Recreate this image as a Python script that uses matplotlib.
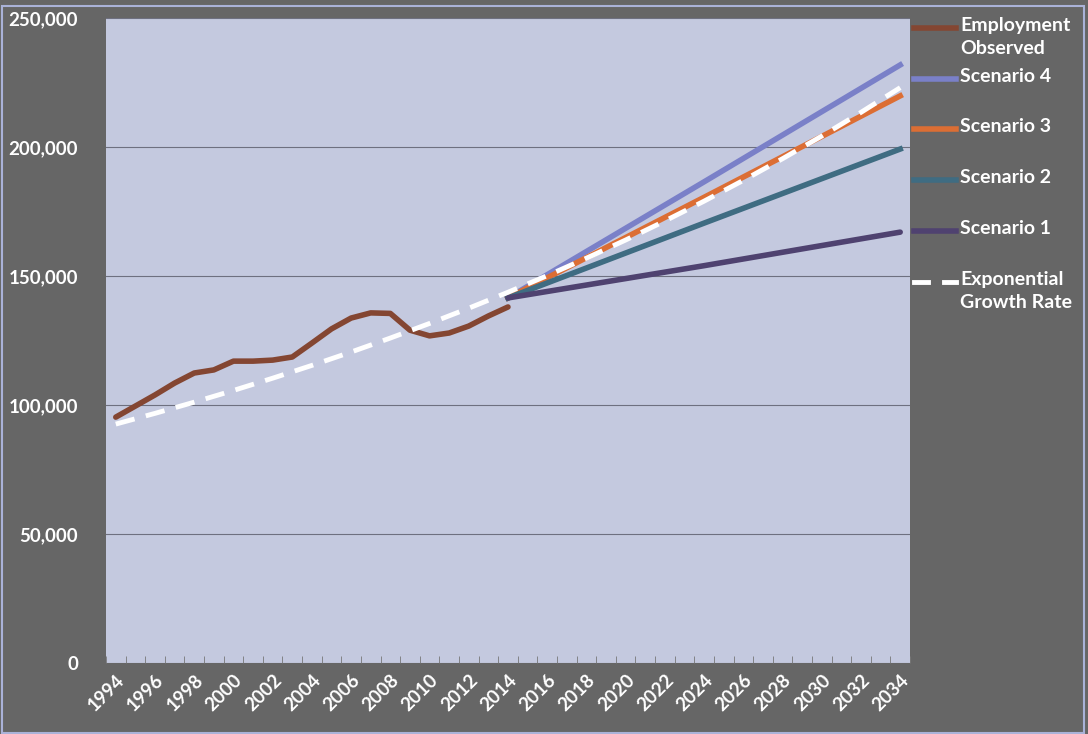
import matplotlib
matplotlib.use("Agg")
import matplotlib.pyplot as plt
from matplotlib.lines import Line2D
from matplotlib.patches import Rectangle
import numpy as np

# observed employment, 1994-2014
obs_years = list(range(1994, 2015))
employment = [95300, 99600, 103900, 108500, 112400, 113600, 117000, 117000,
              117400, 118600, 124000, 129500, 133700, 135700, 135500, 129000,
              126800, 127900, 130600, 134500, 138000]

# scenarios 2014 -> 2034 (straight lines)
sc_years = [2014, 2024, 2034]
scenario4 = [141500, 186500, 231800]
scenario3 = [141500, 180500, 219800]
scenario2 = [141500, 170500, 199200]
scenario1 = [141500, 154000, 167000]

# exponential growth trend, every 2 years
exp_years = list(range(1994, 2035, 2))
exp_trend = [92600, 96760, 101100, 105640, 110390, 115350, 120530, 125950,
             131610, 137520, 143700, 150150, 156900, 163950, 171320, 179010,
             187060, 195460, 204240, 213420, 223000]

c_emp = "#844632"
c_s4 = "#7a80c8"
c_s3 = "#dc6e34"
c_s2 = "#3f6c82"
c_s1 = "#4f4270"
bg_out = "#666666"
bg_in = "#c4c9df"
fnt = "Lato"

fig = plt.figure(figsize=(10.88, 7.34), dpi=100, facecolor=bg_out)
ax = fig.add_axes([0.0974, 0.0967, 0.739, 0.8788])
ax.set_facecolor(bg_in)

ax.plot(obs_years, employment, color=c_emp, lw=4, solid_capstyle="round", zorder=3)
ax.plot(sc_years, scenario4, color=c_s4, lw=4, zorder=3)
ax.plot(sc_years, scenario3, color=c_s3, lw=4, zorder=3)
ax.plot(sc_years, scenario2, color=c_s2, lw=4, zorder=3)
ax.plot(sc_years, scenario1, color=c_s1, lw=4, solid_capstyle="round", zorder=3)
ax.plot(exp_years, exp_trend, color="white", lw=3.5, ls=(0, (4, 2.4)), zorder=4)

ax.set_xlim(1993.5, 2034.5)
ax.set_ylim(0, 250000)
ax.set_yticks(range(0, 250001, 50000))
ax.set_yticklabels(["{:,}".format(v) for v in range(0, 250001, 50000)])
ax.yaxis.grid(True, color="#6e7080", lw=0.8)
ax.set_axisbelow(True)

ax.set_xticks(range(1994, 2035, 2))
ax.set_xticklabels([str(y) for y in range(1994, 2035, 2)], rotation=45,
                   ha="right", rotation_mode="anchor")
ax.set_xticks(np.arange(1993.5, 2035, 1), minor=True)
ax.tick_params(axis="x", which="major", length=0, pad=6)
ax.tick_params(axis="x", which="minor", direction="in", length=5, color="#777777")
ax.tick_params(axis="y", length=0, pad=20)
for lab in ax.get_yticklabels():
    lab.set_fontsize(13.5)
for lab in ax.get_xticklabels():
    lab.set_fontsize(13.5)
for lab in ax.get_xticklabels() + ax.get_yticklabels():
    lab.set_fontfamily(fnt)
    lab.set_fontweight("bold")
    lab.set_color("white")
for s in ax.spines.values():
    s.set_visible(False)

# legend drawn on the figure, handle beside first text line
entries = [("Employment\nObserved", c_emp, "-", 28),
           ("Scenario 4", c_s4, "-", 79),
           ("Scenario 3", c_s3, "-", 129),
           ("Scenario 2", c_s2, "-", 180),
           ("Scenario 1", c_s1, "-", 231),
           ("Exponential\nGrowth Rate", "white", "--", 282)]
W, H = 1088.0, 734.0
for label, col, ls, ypix in entries:
    yf = 1 - ypix / H
    if ls == "-":
        fig.add_artist(Line2D([914 / W, 956 / W], [yf, yf], color=col, lw=4))
    else:
        fig.add_artist(Line2D([914 / W, 928 / W], [yf, yf], color=col, lw=3.5))
        fig.add_artist(Line2D([944 / W, 956 / W], [yf, yf], color=col, lw=3.5))
    fig.text(960 / W, yf + 11 / H, label, color="white", fontsize=14,
             fontfamily=fnt, fontweight="bold", va="top", ha="left",
             linespacing=1.45)

fig.add_artist(Rectangle((0.002, 0.002), 0.994, 0.99, transform=fig.transFigure,
                         fill=False, edgecolor="#aab2d8", lw=1.5))

fig.savefig("out.png", dpi=100, facecolor=bg_out)
